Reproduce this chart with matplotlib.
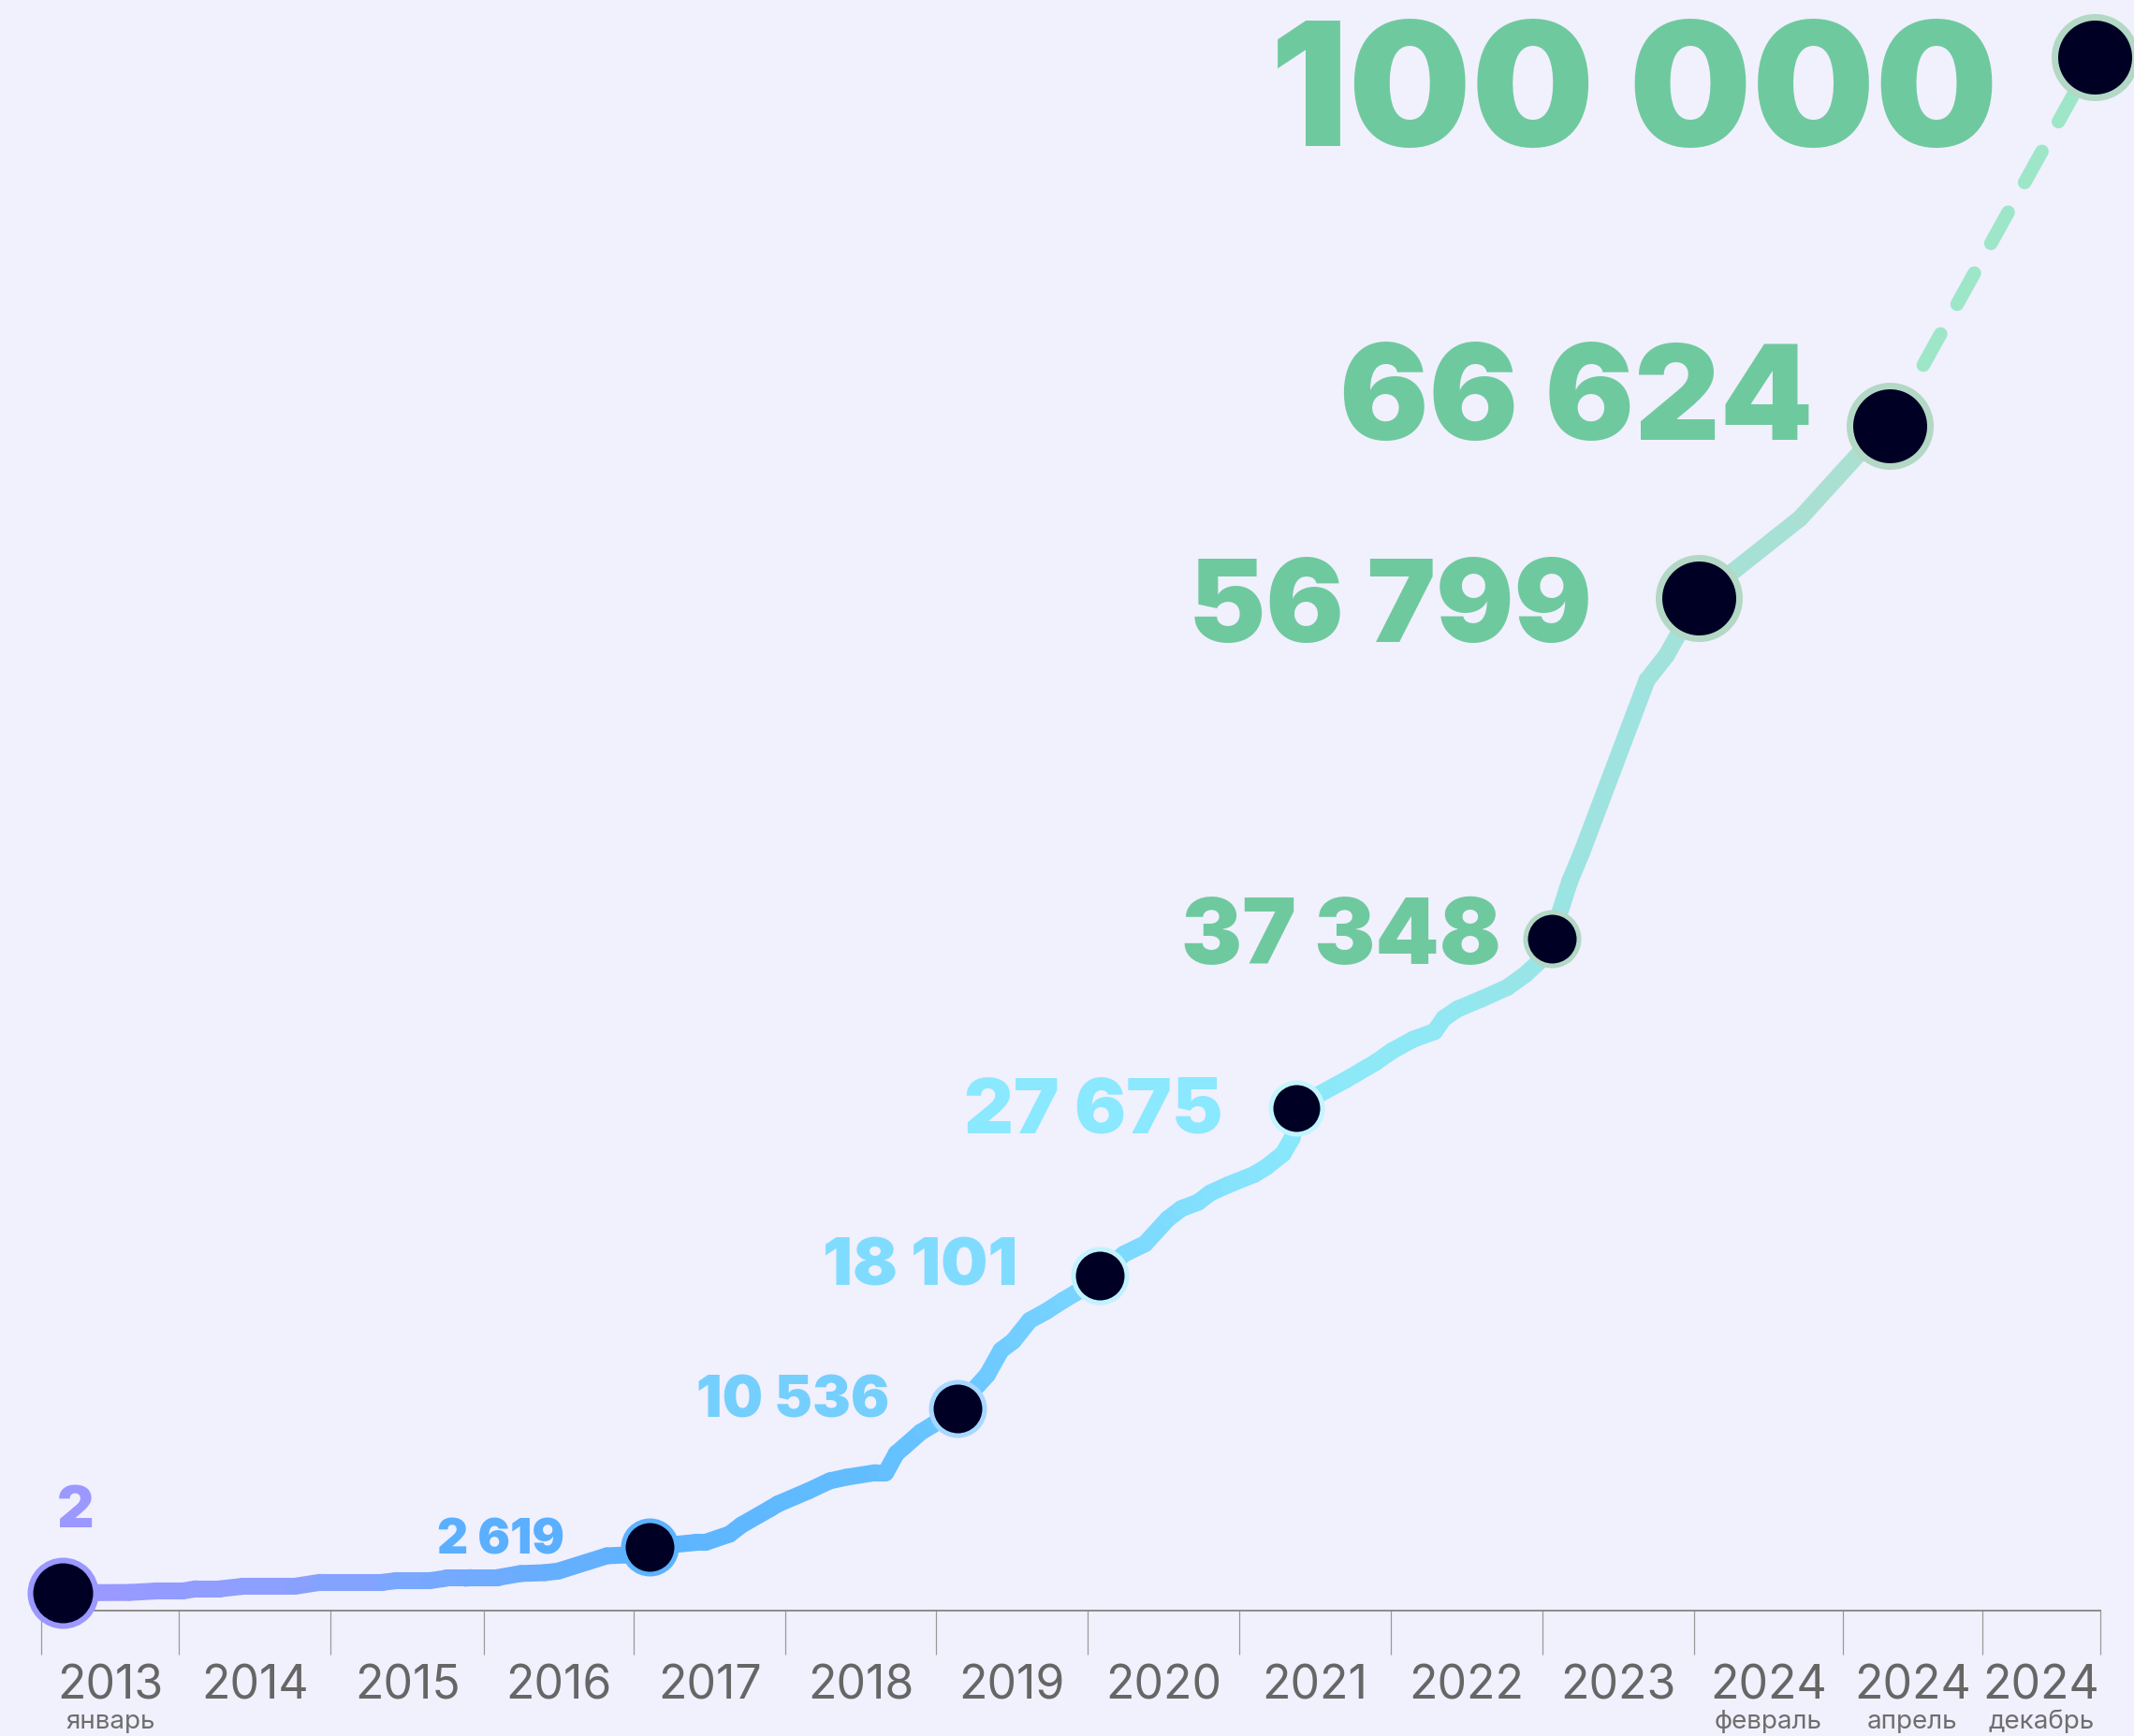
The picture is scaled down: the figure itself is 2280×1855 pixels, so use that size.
import numpy as np
import matplotlib
matplotlib.use("Agg")
import matplotlib.pyplot as plt
from matplotlib.collections import LineCollection
from matplotlib.colors import LinearSegmentedColormap

BG = "#f1f0fd"
NAVY = "#000024"

# x is measured in "periods" along the axis (one year slot ~ 1.0)
period_edges = [0.0, 0.91, 1.91, 2.92, 3.91, 4.91, 5.90, 6.90, 7.90, 8.90, 9.90, 10.90, 11.88, 12.80, 13.58]
year_labels = ["2013", "2014", "2015", "2016", "2017", "2018", "2019", "2020",
               "2021", "2022", "2023", "2024", "2024", "2024"]
month_labels = {0: "январь", 11: "февраль", 12: "апрель", 13: "декабрь"}

# monthly-ish trace of the count
trace_x = [0.14, 0.58, 0.75, 0.93, 1.02, 1.18, 1.33, 1.67, 1.84, 2.25, 2.34, 2.56, 2.67, 2.80, 2.83,
           3.01, 3.16, 3.32, 3.41, 3.73, 3.85,
           4.01, 4.32, 4.38, 4.54, 4.62, 4.81, 4.86, 5.06, 5.20, 5.31, 5.50, 5.57, 5.64, 5.69, 5.80, 5.88,
           6.04, 6.24, 6.33, 6.41, 6.52, 6.63, 6.74, 6.82,
           6.98, 7.14, 7.28, 7.43, 7.52, 7.63, 7.71, 7.83, 8.00, 8.08, 8.19, 8.25,
           8.28, 8.41, 8.60, 8.80, 8.91, 9.05, 9.19, 9.25, 9.34, 9.50, 9.67, 9.79, 9.90,
           9.96, 10.08, 10.16, 10.59, 10.72,
           10.93, 11.15, 11.60, 11.99,
           12.19]
trace_v = [2, 20, 100, 100, 230, 230, 370, 370, 600, 600, 690, 690, 830, 830, 870,
           870, 1100, 1150, 1240, 2110, 2160,
           2619, 2880, 2880, 3350, 3880, 4820, 5080, 5820, 6390, 6600, 6860, 6860, 7960, 8330, 9170, 9590,
           10536, 12450, 13850, 14370, 15560, 16080, 16700, 17110,
           18101, 19340, 19930, 21350, 21940, 22300, 22830, 23300, 23890, 24310, 25070, 25960,
           27675, 28380, 29270, 30280, 30950, 31610, 32050, 32800, 33330, 33910, 34570, 35320, 36210,
           37348, 40610, 42270, 52110, 53540,
           56799, 58260, 61350, 65060,
           66624]

# projection to the goal
goal_x = 13.54
goal_v = 100000

milestone_x = [0.14, 4.01, 6.04, 6.98, 8.28, 9.96, 10.93, 12.19, 13.54]
milestone_v = [2, 2619, 10536, 18101, 27675, 37348, 56799, 66624, 100000]

# styling per milestone
label_colors = ["#9b98ff", "#5aafff", "#74cffd", "#80dcff", "#8ae8ff",
                "#6fc99f", "#6fc99f", "#6fc99f", "#6fc99f"]
label_sizes = [44, 37, 44, 51, 59, 70, 89, 102, 133]
label_offsets = [(10, 51), (-65.5, -5), (-52, -6), (-63, -6.5), (-57, -18),
                 (-39, -19), (-82, -33), (-59, -10), (-74, -68)]
ring_colors = ["#9b98ff", "#5cb3ff", "#a8d8ff", "#c2f2ff", "#c4f5ff",
               "#b3d8c5", "#b3d8c5", "#b3d8c5", "#b3d8c5"]
dot_px = [76, 62, 62, 62, 60, 62, 93, 93, 93]
ring_px = [6, 5, 5, 5, 5, 5, 7, 7, 7]

line_stops = [(0.14, "#9b98ff"), (1.7, "#8aa0ff"), (3.0, "#6eacff"), (4.0, "#5cb3ff"),
              (5.5, "#62beff"), (6.0, "#6ac6ff"), (7.0, "#7ad6ff"), (8.3, "#8ae8fb"),
              (9.2, "#90e8f4"), (10.0, "#9ae4e4"), (10.9, "#a2e2da"), (12.19, "#aedfcf")]

SQUEEZE_FROM = 66624   # the projected part of the axis is drawn compressed
SQUEEZE = 0.631


def fwd(v):
    v = np.asarray(v, dtype=float)
    return np.where(v <= SQUEEZE_FROM, v, SQUEEZE_FROM + (v - SQUEEZE_FROM) * SQUEEZE)


def inv(u):
    u = np.asarray(u, dtype=float)
    return np.where(u <= SQUEEZE_FROM, u, SQUEEZE_FROM + (u - SQUEEZE_FROM) / SQUEEZE)


def fmt(n):
    return f"{n:,}".replace(",", " ")


plt.rcParams["font.family"] = ["Inter", "DejaVu Sans"]

fig = plt.figure(figsize=(22.8, 18.56), dpi=100, facecolor=BG)
ax = fig.add_axes([0, 1 - 1722 / 1856, 1, 1722 / 1856])
ax.set_facecolor("none")
ax.set_yscale("function", functions=(fwd, inv))
ax.set_xlim(-0.2716, 13.802)
ax.set_ylim(-1015, inv(90996))

# gradient trace
pts = np.column_stack([trace_x, trace_v])
segs = np.stack([pts[:-1], pts[1:]], axis=1)
stop_x = np.array([s[0] for s in line_stops])
cmap = LinearSegmentedColormap.from_list(
    "trace", [((x - stop_x[0]) / (stop_x[-1] - stop_x[0]), c) for x, c in line_stops])
mid = (segs[:, 0, 0] + segs[:, 1, 0]) / 2
cols = cmap((mid - stop_x[0]) / (stop_x[-1] - stop_x[0]))
lc = LineCollection(segs, colors=cols, linewidths=13, capstyle="round",
                    joinstyle="round", zorder=2, clip_on=False)
ax.add_collection(lc)

# dashed projection
ax.plot([trace_x[-1], goal_x], [trace_v[-1], goal_v], color="#9ee6c8", lw=10.5,
        dashes=(2.6, 2.5), dash_capstyle="round", zorder=1, clip_on=False)

# milestones
for i, (mx, mv) in enumerate(zip(milestone_x, milestone_v)):
    mew = ring_px[i] * 0.72
    ms = dot_px[i] * 0.72 - mew
    ax.plot(mx, mv, "o", ms=ms, mfc=NAVY, mec=ring_colors[i], mew=mew, zorder=4, clip_on=False)
    ax.annotate(fmt(mv), xy=(mx, mv), xytext=label_offsets[i], textcoords="offset points",
                ha="center" if i == 0 else "right", va="baseline",
                fontsize=label_sizes[i], fontweight=900, color=label_colors[i], zorder=5)

# axis
for s in ["top", "left", "right"]:
    ax.spines[s].set_visible(False)
ax.spines["bottom"].set_color("#8c8c8c")
ax.spines["bottom"].set_linewidth(1.4)
ax.spines["bottom"].set_bounds(period_edges[0], period_edges[-1])
ax.yaxis.set_visible(False)
ax.set_xticks(period_edges)
ax.set_xticklabels([])
ax.tick_params(axis="x", direction="out", length=34, width=0.9, color="#9a9a9a")

centers = [(a + b) / 2 for a, b in zip(period_edges[:-1], period_edges[1:])]
xt = ax.get_xaxis_transform()
for i, c in enumerate(centers):
    ax.annotate(year_labels[i], xy=(c, 0), xycoords=xt, xytext=(0, -67), textcoords="offset points",
                ha="center", va="baseline", fontsize=36, color="#666666")
    if i in month_labels:
        ax.annotate(month_labels[i], xy=(c, 0), xycoords=xt, xytext=(0, -90),
                    textcoords="offset points", ha="center", va="baseline",
                    fontsize=20, color="#6e6e6e")

fig.savefig("out.png", dpi=100, facecolor=BG)
